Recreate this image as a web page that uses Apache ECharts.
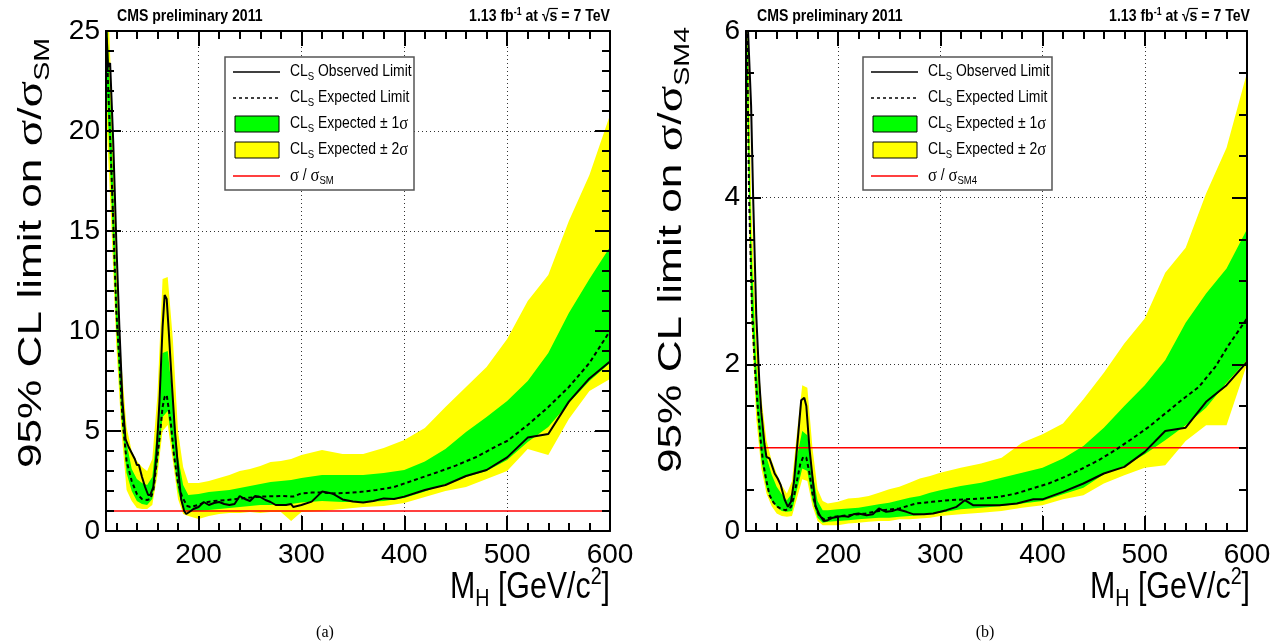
<!DOCTYPE html>
<html><head><meta charset="utf-8">
<script src="https://cdn.jsdelivr.net/npm/echarts@6/dist/echarts.min.js"></script>
<style>html,body{margin:0;padding:0;background:#fff}#c{width:1274px;height:643px}</style>
</head><body><div id="c"></div>
<script>
// ---------------- DATA ----------------
const bandMass = [110,115,120,125,130,135,140,145,150,155,160,165,170,175,180,185,190,200,210,220,230,240,250,260,270,280,290,300,320,340,360,380,400,420,440,460,480,500,520,540,560,580,600];

// (a) sigma / sigma_SM
const smYellowLow  = [21,15.5,9.3,5.0,2.05,1.5,1.15,1.1,1.1,1.3,2.8,5.0,5.3,3.5,1.6,0.85,0.75,0.6,0.75,0.85,0.9,0.9,0.95,0.9,0.95,0.95,0.5,0.95,1.0,1.1,1.2,1.25,1.4,1.7,2.0,2.2,2.6,3.0,4.1,3.8,5.6,7.0,7.6];
const smGreenLow   = [23,17,10.2,5.8,2.9,2.0,1.5,1.35,1.3,1.6,3.3,5.7,6.0,4.0,2.0,1.1,0.95,1.0,1.05,1.1,1.15,1.2,1.25,1.3,1.3,1.35,1.35,1.42,1.5,1.45,1.45,1.5,1.65,1.97,2.35,2.7,3.0,3.55,4.45,5.2,6.4,7.5,8.4];
const smGreenHigh  = [27,20.5,12.2,7.4,4.4,3.1,2.6,2.4,2.3,2.7,5.2,8.9,9.0,6.6,3.7,2.3,1.8,1.85,1.95,2.0,2.05,2.15,2.25,2.35,2.45,2.5,2.55,2.65,2.8,2.8,2.8,2.9,3.05,3.47,4.1,4.95,5.7,6.5,7.5,8.9,10.9,12.6,14.2];
const smYellowHigh = [29,22.5,13.5,8.4,5.2,4.0,3.5,3.2,3.0,3.6,6.8,12.6,12.7,9.6,5.0,3.2,2.4,2.4,2.5,2.65,2.8,3.0,3.1,3.25,3.45,3.5,3.6,3.8,4.05,3.85,3.85,4.15,4.55,5.15,6.2,7.2,8.2,9.6,11.5,12.8,15.5,17.8,20.8];

const smObsMass = [110,112,114,117,120,123,126,129,132,135,138,140,142,145,148,151,153,156,159,162,165,167,169,171,174,177,180,183,186,188,191,195,200,205,210,215,220,225,230,235,240,245,250,255,260,265,270,275,280,285,290,292,300,310,320,330,340,350,360,370,380,390,400,420,440,460,480,500,520,540,560,580,600];
const smObs     = [25.5,23.2,23.4,19.5,14.5,10.2,6.5,4.6,4.2,3.9,3.6,3.3,3.3,2.7,2.2,1.8,1.8,2.2,3.8,6.5,10.2,11.8,11.6,10.0,7.4,5.0,3.2,1.6,1.0,0.85,0.95,1.1,1.2,1.45,1.3,1.4,1.45,1.35,1.3,1.35,1.75,1.6,1.5,1.75,1.7,1.55,1.45,1.3,1.3,1.3,1.35,1.2,1.3,1.47,1.97,1.88,1.58,1.47,1.42,1.5,1.63,1.6,1.72,2.05,2.3,2.75,3.05,3.68,4.67,4.85,6.47,7.63,8.47];

const smExpMass = [110,113,116,120,123,126,130,135,140,145,150,153,156,159,162,165,167,169,171,173,176,180,184,189,192,200,205,215,227,240,260,280,292,300,310,320,330,340,350,360,373,390,410,430,450,470,490,500,520,540,560,580,600];
const smExp     = [25,21,17,11,8.5,5.6,3.5,2.5,1.85,1.6,1.55,1.6,2.0,3.3,4.6,6.2,6.7,6.8,6.1,5.4,3.8,2.4,1.7,1.25,1.2,1.3,1.42,1.5,1.55,1.62,1.72,1.75,1.72,1.88,1.92,1.92,1.88,1.9,1.92,1.97,2.05,2.2,2.55,2.9,3.27,3.7,4.25,4.5,5.3,6.2,7.2,8.4,10.0];

// (b) sigma / sigma_SM4
const sm4YellowLow  = [5.6,2.6,1.35,0.75,0.45,0.3,0.21,0.18,0.17,0.18,0.4,0.62,0.6,0.3,0.12,0.07,0.07,0.07,0.09,0.1,0.11,0.12,0.12,0.14,0.14,0.15,0.16,0.18,0.2,0.22,0.24,0.28,0.31,0.38,0.43,0.57,0.67,0.76,0.79,1.08,1.27,1.27,2.0];
const sm4GreenLow   = [6.0,2.8,1.55,0.85,0.52,0.36,0.29,0.24,0.23,0.24,0.5,0.75,0.72,0.37,0.16,0.1,0.11,0.12,0.13,0.14,0.15,0.16,0.16,0.17,0.18,0.19,0.2,0.22,0.26,0.28,0.3,0.33,0.36,0.44,0.52,0.68,0.78,0.92,1.09,1.27,1.48,1.78,2.05];
const sm4GreenHigh  = [6.8,3.5,2.0,1.3,0.89,0.68,0.53,0.44,0.37,0.45,0.9,1.2,1.15,0.7,0.36,0.25,0.25,0.26,0.27,0.28,0.3,0.32,0.34,0.37,0.4,0.42,0.46,0.49,0.54,0.58,0.64,0.7,0.76,0.87,1.02,1.24,1.5,1.75,2.05,2.5,2.85,3.15,3.62];
const sm4YellowHigh = [7.5,4.0,2.3,1.6,1.09,0.85,0.69,0.55,0.45,0.6,1.2,1.75,1.72,1.0,0.5,0.36,0.33,0.35,0.39,0.4,0.42,0.46,0.5,0.53,0.58,0.63,0.66,0.7,0.76,0.81,0.88,1.06,1.16,1.29,1.58,1.9,2.25,2.55,3.1,3.4,4.05,4.6,5.5];

const sm4ObsMass = [110,112,115,117,120,123,125,128,130,133,135,138,141,144,148,151,154,157,160,164,167,169,172,175,178,182,186,190,195,200,205,210,215,220,228,234,240,247,253,258,267,274,284,293,300,306,316,324,332,342,358,375,391,400,420,440,460,480,500,520,540,560,580,600];
const sm4Obs     = [6.5,6.0,5.1,4.0,2.6,1.8,1.42,1.05,0.89,0.87,0.8,0.69,0.63,0.55,0.37,0.29,0.35,0.6,1.01,1.57,1.6,1.5,1.0,0.65,0.3,0.19,0.12,0.13,0.16,0.17,0.18,0.17,0.2,0.21,0.19,0.2,0.27,0.23,0.24,0.26,0.23,0.2,0.2,0.21,0.23,0.25,0.29,0.37,0.31,0.31,0.31,0.33,0.38,0.38,0.47,0.57,0.69,0.77,0.95,1.2,1.24,1.55,1.75,2.03];

const sm4ExpMass = [110,111,113,116,119,122,125,127,130,133,137,141,145,149,154,157,160,163,166,169,172,175,178,181,186,195,211,227,244,260,276,292,309,325,341,358,374,390,406,422,439,455,471,488,504,520,536,553,569,582,600];
const sm4Exp     = [6.3,6.0,4.0,2.6,1.9,1.4,1.0,0.8,0.6,0.43,0.34,0.29,0.26,0.25,0.29,0.42,0.61,0.8,0.89,0.88,0.7,0.45,0.3,0.2,0.14,0.17,0.19,0.21,0.25,0.27,0.33,0.35,0.37,0.38,0.39,0.41,0.45,0.51,0.57,0.65,0.75,0.85,0.97,1.11,1.25,1.41,1.57,1.73,1.97,2.23,2.55];

const refLineMass = [110, 600];
const refLineValue = [1, 1];

const xMajorTicks = [200, 300, 400, 500, 600];
const xMinorTicks = [120,140,160,180,220,240,260,280,320,340,360,380,420,440,460,480,520,540,560,580];
const xTickLabels = ['200','300','400','500','600'];

// ---------------- CHART ----------------
const FONT = 'Liberation Sans';
const chart = echarts.init(document.getElementById('c'), null, {renderer: 'canvas', width: 1274, height: 643});
const pairs = (ms, vs) => ms.map((m, i) => [m, vs[i]]);

const panels = [
  {grid: {left: 106, top: 31, width: 504, height: 500}, ymax: 25, yint: 5, yminor: 5,
   yl: smYellowLow, gl: smGreenLow, gh: smGreenHigh, yh: smYellowHigh,
   om: smObsMass, ov: smObs, em: smExpMass, ev: smExp},
  {grid: {left: 746, top: 31, width: 501, height: 500}, ymax: 6, yint: 2, yminor: 4,
   yl: sm4YellowLow, gl: sm4GreenLow, gh: sm4GreenHigh, yh: sm4YellowHigh,
   om: sm4ObsMass, ov: sm4Obs, em: sm4ExpMass, ev: sm4Exp}
];

const grids = [], xAxes = [], yAxes = [], series = [];
const dotted = {show: true, lineStyle: {color: '#333', width: 1, type: [1, 3]}};
panels.forEach((p, g) => {
  grids.push(p.grid);
  const xb = xAxes.length, yb = yAxes.length;
  const xcommon = {gridIndex: g, type: 'value', min: 110, max: 600, splitNumber: 5};
  xAxes.push(Object.assign({}, xcommon, {position: 'bottom', z: 0,
    axisLine: {show: false, onZero: false}, axisTick: {show: false},
    splitLine: dotted,
    axisLabel: {show: true, color: '#000', fontSize: 28, fontFamily: FONT, margin: 10,
      customValues: xMajorTicks, formatter: v => xTickLabels[xMajorTicks.indexOf(v)] || ''}}));
  ['bottom', 'top'].forEach(pos => {
    xAxes.push(Object.assign({}, xcommon, {position: pos, z: 10,
      axisLine: {show: true, onZero: false, lineStyle: {color: '#000', width: 2}},
      axisTick: {show: true, inside: true, length: 15, lineStyle: {color: '#000', width: 2}, customValues: xMajorTicks},
      axisLabel: {show: false}, splitLine: {show: false}}));
    xAxes.push(Object.assign({}, xcommon, {position: pos, z: 10,
      axisLine: {show: false, onZero: false},
      axisTick: {show: true, inside: true, length: 8, lineStyle: {color: '#000', width: 2}, customValues: xMinorTicks},
      axisLabel: {show: false}, splitLine: {show: false}}));
  });
  const ycommon = {gridIndex: g, type: 'value', min: 0, max: p.ymax, interval: p.yint};
  yAxes.push(Object.assign({}, ycommon, {position: 'left', z: 0,
    axisLine: {show: false, onZero: false}, axisTick: {show: false},
    splitLine: dotted,
    axisLabel: {show: true, color: '#000', fontSize: 28, fontFamily: FONT, margin: 6}}));
  ['left', 'right'].forEach(pos => {
    yAxes.push(Object.assign({}, ycommon, {position: pos, z: 10,
      axisLine: {show: true, onZero: false, lineStyle: {color: '#000', width: 2}},
      axisTick: {show: true, inside: true, length: 15, lineStyle: {color: '#000', width: 2}},
      minorTick: {show: true, splitNumber: p.yminor, length: 8, lineStyle: {color: '#000', width: 2}},
      axisLabel: {show: false}, splitLine: {show: false}}));
  });

  const band = (lo, hi, color, z) => ({
    type: 'custom', xAxisIndex: xb, yAxisIndex: yb, clip: true, z: z, silent: true,
    data: [[bandMass[0], lo[0]]], encode: {x: 0, y: 1},
    renderItem: (params, api) => {
      const pts = [];
      for (let i = 0; i < bandMass.length; i++) pts.push(api.coord([bandMass[i], hi[i]]));
      for (let i = bandMass.length - 1; i >= 0; i--) pts.push(api.coord([bandMass[i], lo[i]]));
      return {type: 'polygon', shape: {points: pts}, style: {fill: color, stroke: null}};
    }
  });
  series.push(band(p.yl, p.yh, '#ffff00', 2));
  series.push(band(p.gl, p.gh, '#00ff00', 3));
  series.push({type: 'line', xAxisIndex: xb, yAxisIndex: yb, z: 4, silent: true, showSymbol: false,
    data: pairs(refLineMass, refLineValue), lineStyle: {color: '#ff0000', width: 1.5}});
  series.push({type: 'line', xAxisIndex: xb, yAxisIndex: yb, z: 5, silent: true, showSymbol: false,
    data: pairs(p.em, p.ev), lineStyle: {color: '#000', width: 2, type: [4, 3]}});
  series.push({type: 'line', xAxisIndex: xb, yAxisIndex: yb, z: 6, silent: true, showSymbol: false,
    data: pairs(p.om, p.ov), lineStyle: {color: '#000', width: 2}});
});

// ---------------- TEXT / LEGEND ----------------
const measure = (txt, font) => { const c = document.createElement('canvas').getContext('2d'); c.font = font; return c.measureText(txt).width; };
const richBase = {
  m: {fontFamily: FONT, fontSize: 16, color: '#000', lineHeight: 20},
  s: {fontFamily: FONT, fontSize: 11, color: '#000', lineHeight: 11, verticalAlign: 'bottom'},
  g: {fontFamily: 'Liberation Serif', fontSize: 19, color: '#000', lineHeight: 20}
};
function legend(dx, smLabel) {
  const els = [];
  els.push({type: 'rect', shape: {x: 225 + dx, y: 57, width: 189, height: 133},
    style: {fill: '#fff', stroke: '#555', lineWidth: 1.5}, z: 50});
  const rows = [72, 98, 124, 150, 176];
  els.push({type: 'line', shape: {x1: 233 + dx, y1: rows[0], x2: 280 + dx, y2: rows[0]}, style: {stroke: '#000', lineWidth: 1.5}, z: 51});
  els.push({type: 'line', shape: {x1: 233 + dx, y1: rows[1], x2: 280 + dx, y2: rows[1]}, style: {stroke: '#000', lineWidth: 1.5, lineDash: [3, 3]}, z: 51});
  els.push({type: 'rect', shape: {x: 235 + dx, y: rows[2] - 8, width: 44, height: 16}, style: {fill: '#00ff00', stroke: '#000', lineWidth: 1}, z: 51});
  els.push({type: 'rect', shape: {x: 235 + dx, y: rows[3] - 8, width: 44, height: 16}, style: {fill: '#ffff00', stroke: '#000', lineWidth: 1}, z: 51});
  els.push({type: 'line', shape: {x1: 233 + dx, y1: rows[4], x2: 280 + dx, y2: rows[4]}, style: {stroke: '#ff0000', lineWidth: 1.5}, z: 51});
  const texts = ['{m|CL}{s|S}{m| Observed Limit}', '{m|CL}{s|S}{m| Expected Limit}',
    '{m|CL}{s|S}{m| Expected ± 1}{g|σ}', '{m|CL}{s|S}{m| Expected ± 2}{g|σ}', '{g|σ}{m| / }{g|σ}{s|' + smLabel + '}'];
  texts.forEach((t, i) => els.push({type: 'text', x: 290 + dx, y: rows[i], z: 51, scaleX: 0.87,
    style: {text: t, rich: richBase, verticalAlign: 'middle', align: 'left'}}));
  return els;
}
function header(dx) {
  const hs = 0.88;
  const bfont = 'bold 16px ' + FONT;
  const wTail = measure('s = 7 TeV', bfont) * hs;
  const wS = measure('s', bfont) * hs;
  const xr = 610 + dx;
  return [
    {type: 'text', x: 117 + dx, y: 17, z: 60, scaleX: hs, style: {text: 'CMS preliminary 2011', fontFamily: FONT, fontWeight: 'bold', fontSize: 16, fill: '#000', align: 'left', verticalAlign: 'middle'}},
    {type: 'text', x: xr, y: 17, z: 60, scaleX: hs, style: {text: '{b|1.13 fb}{p|-1}{b| at √s = 7 TeV}', align: 'right', verticalAlign: 'middle',
      rich: {b: {fontFamily: FONT, fontWeight: 'bold', fontSize: 16, lineHeight: 20}, p: {fontFamily: FONT, fontWeight: 'bold', fontSize: 10, lineHeight: 10, verticalAlign: 'top'}}}},
    {type: 'line', z: 60, shape: {x1: xr - wTail - 0.5, y1: 8.5, x2: xr - wTail + wS + 0.5, y2: 8.5}, style: {stroke: '#000', lineWidth: 1.2}}
  ];
}
function titles(dx, subLabel, yc) {
  return [
    {type: 'text', x: 32 + dx, y: yc, rotation: Math.PI / 2, scaleX: 1.3, z: 60,
     style: {text: '{m|95% CL limit on }{g|σ}{m|/}{g|σ}{s|' + subLabel + '}', align: 'center', verticalAlign: 'middle',
       rich: {m: {fontFamily: FONT, fontSize: 34, lineHeight: 44}, g: {fontFamily: 'Liberation Serif', fontSize: 38, lineHeight: 44}, s: {fontFamily: FONT, fontSize: 22, lineHeight: 22, verticalAlign: 'bottom'}}}},
    {type: 'text', x: 610 + dx, y: 588, scaleX: 0.82, z: 60,
     style: {text: '{m|M}{s|H}{m| [GeV/c}{p|2}{m|]}', align: 'right', verticalAlign: 'middle',
       rich: {m: {fontFamily: FONT, fontSize: 37, lineHeight: 46}, s: {fontFamily: FONT, fontSize: 24, lineHeight: 24, verticalAlign: 'bottom'}, p: {fontFamily: FONT, fontSize: 24, lineHeight: 24, verticalAlign: 'top'}}}},
  ];
}
const graphic = [].concat(
  legend(0, 'SM'), legend(638, 'SM4'),
  header(0), header(640),
  titles(0, 'SM', 253), titles(640, 'SM4', 250),
  [{type: 'text', x: 325, y: 633, style: {text: '(a)', fontFamily: 'Liberation Serif', fontSize: 16, fill: '#000', align: 'center', verticalAlign: 'middle'}},
   {type: 'text', x: 985, y: 633, style: {text: '(b)', fontFamily: 'Liberation Serif', fontSize: 16, fill: '#000', align: 'center', verticalAlign: 'middle'}}]
);

chart.setOption({
  animation: false,
  backgroundColor: '#fff',
  grid: grids, xAxis: xAxes, yAxis: yAxes, series: series,
  graphic: {elements: graphic}
});
</script>
</body></html>
